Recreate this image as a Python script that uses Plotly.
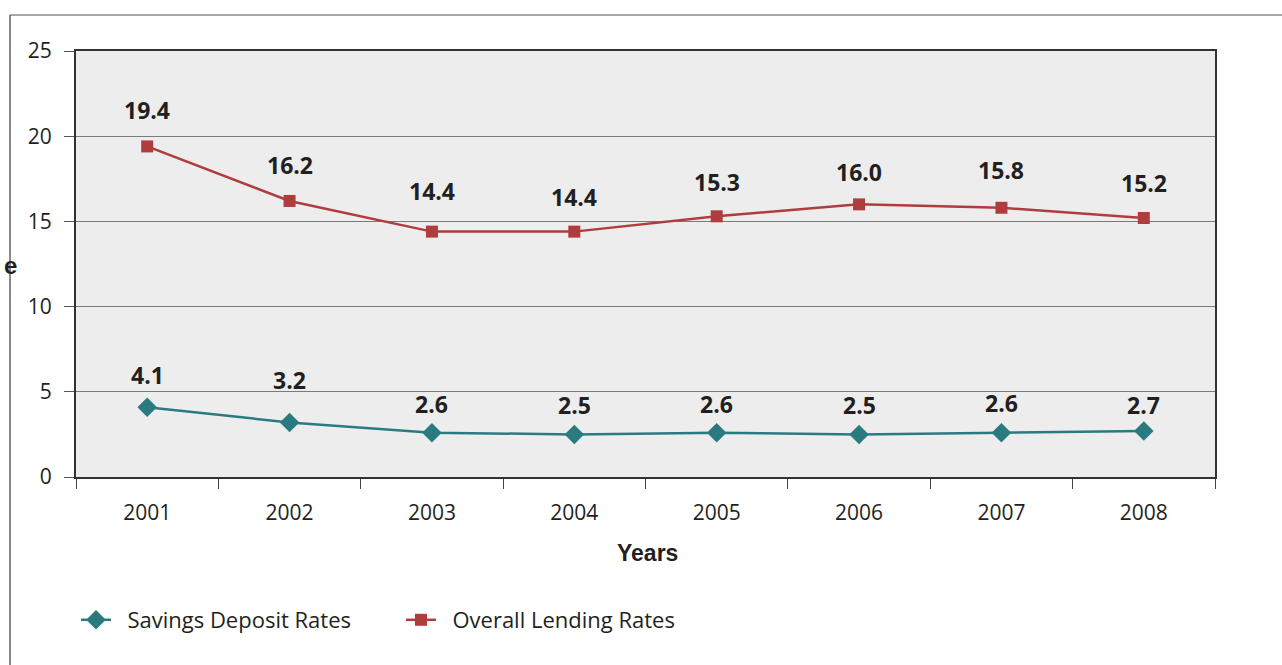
import plotly.graph_objects as go

# Interest rate data (percent)
years = ["2001", "2002", "2003", "2004", "2005", "2006", "2007", "2008"]
savings_deposit = [4.1, 3.2, 2.6, 2.5, 2.6, 2.5, 2.6, 2.7]
overall_lending = [19.4, 16.2, 14.4, 14.4, 15.3, 16.0, 15.8, 15.2]
y_ticks = [0, 5, 10, 15, 20, 25]

# Vertical lift (px) of each value label above its marker
savings_label_lift = [32, 42, 29, 29, 29, 29, 30, 26]
lending_label_lift = [36, 36, 41, 35, 34, 32, 38, 35]

TEAL = "#2a7b80"
RED = "#b03d3d"
TEXT = "#231f20"
BODY_FONT = "Open Sans"
LEGEND_GAP = "\u00a0\u00a0"  # extra space between legend symbol and its text

# Plot area geometry in page pixels
L, R, T, B = 76, 1215, 51, 477
W, H = R - L, B - T


def px_x(px):
    return (px - L) / W


def px_y(py):
    return (B - py) / H


fig = go.Figure()
fig.add_trace(go.Scatter(
    x=years, y=savings_deposit, name=LEGEND_GAP + "Savings Deposit Rates",
    mode="lines+markers",
    line=dict(color=TEAL, width=2.5),
    marker=dict(symbol="diamond", size=15, color=TEAL),
))
fig.add_trace(go.Scatter(
    x=years, y=overall_lending, name=LEGEND_GAP + "Overall Lending Rates",
    mode="lines+markers",
    line=dict(color=RED, width=2.5),
    marker=dict(symbol="square", size=12, color=RED),
))

annotations = []
for series, lifts in ((savings_deposit, savings_label_lift),
                      (overall_lending, lending_label_lift)):
    # category positions are given by index so "2001" is not read as a number
    for idx, (v, lift) in enumerate(zip(series, lifts)):
        annotations.append(dict(
            x=idx, y=v, xref="x", yref="y", text=f"<b>{v:.1f}</b>",
            showarrow=False, yanchor="middle", yshift=lift,
            font=dict(family=BODY_FONT, size=23, color=TEXT),
        ))

# x-axis title
annotations.append(dict(
    x=0.5, y=0, xref="paper", yref="paper", text="<b>Years</b>",
    showarrow=False, yanchor="middle", yshift=-76, xshift=2,
    font=dict(family="Liberation Sans", size=23, color=TEXT),
))
# clipped remnant of the y-axis title at the frame edge
annotations.append(dict(
    x=px_x(19), y=px_y(265), xref="paper", yref="paper", text="<b>e</b>",
    showarrow=False, xanchor="right", yanchor="middle",
    font=dict(family="Liberation Sans", size=24, color=TEXT),
))

shapes = [
    # outer frame: top and left edges
    dict(type="line", xref="paper", yref="paper",
         x0=px_x(10), x1=px_x(1290), y0=px_y(15), y1=px_y(15),
         line=dict(color="#8a8a8a", width=1.5)),
    dict(type="line", xref="paper", yref="paper",
         x0=px_x(10), x1=px_x(10), y0=px_y(15), y1=px_y(670),
         line=dict(color="#3a3a3a", width=1.2)),
]

fig.update_layout(
    width=1282, height=665,
    margin=dict(l=L, r=1282 - R, t=T, b=665 - B),
    paper_bgcolor="white",
    plot_bgcolor="#ededed",
    font=dict(family=BODY_FONT, size=21, color=TEXT),
    showlegend=True,
    legend=dict(
        orientation="h", x=px_x(76), y=px_y(620),
        xanchor="left", yanchor="middle",
        font=dict(family=BODY_FONT, size=22, color=TEXT),
        itemwidth=30, entrywidth=280, bgcolor="rgba(0,0,0,0)",
    ),
    annotations=annotations,
    shapes=shapes,
)

fig.update_xaxes(
    type="category", range=[-0.5, len(years) - 0.5],
    showline=True, linecolor="#333333", linewidth=2, mirror=True,
    ticks="outside", ticklen=10, tickwidth=1, tickcolor="#444444",
    tickson="boundaries", ticklabelstandoff=16,
    showgrid=False,
    tickfont=dict(family=BODY_FONT, size=21, color=TEXT),
)
fig.update_yaxes(
    range=[0, 25], tickvals=y_ticks,
    showline=True, linecolor="#333333", linewidth=2, mirror=True,
    ticks="outside", ticklen=10, tickwidth=1, tickcolor="#555555",
    ticklabelstandoff=8,
    showgrid=True, gridcolor="#7a7a7a", gridwidth=1,
    zeroline=False,
    tickfont=dict(family=BODY_FONT, size=21, color=TEXT),
)

fig.write_html("out.html")
